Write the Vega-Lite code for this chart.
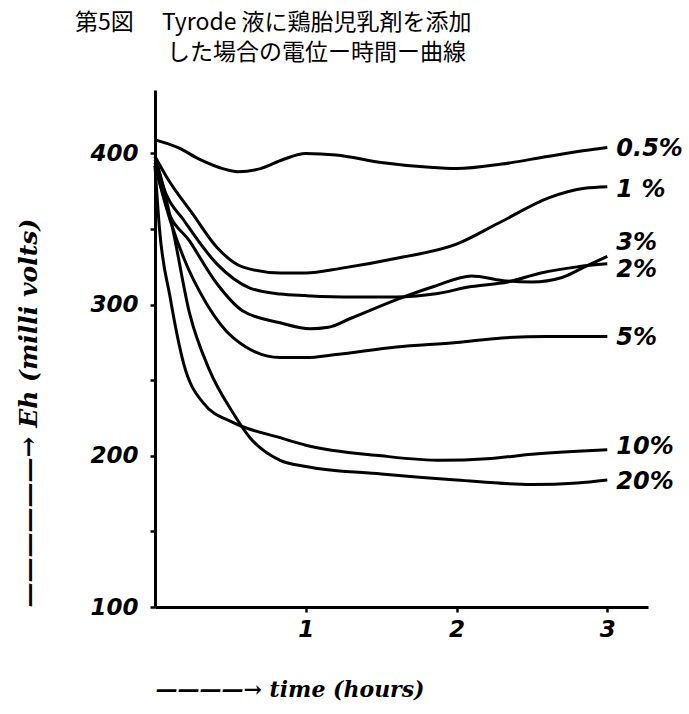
{
  "$schema": "https://vega.github.io/schema/vega-lite/v6.json",
  "autosize": {"type": "none"},
  "padding": {"left": 155, "top": 90, "right": 41, "bottom": 107},
  "width": 493,
  "height": 517,
  "background": "white",
  "config": {"view": {"stroke": null}},
  "title": {
    "text": ["第5図　 Tyrode 液に鶏胎児乳剤を添加", "\u200b　　　　した場合の電位ー時間ー曲線"],
    "font": "Noto Sans CJK JP",
    "fontSize": 23,
    "fontWeight": "normal",
    "color": "black",
    "frame": "group",
    "anchor": "start",
    "align": "left",
    "dx": -80,
    "lineHeight": 30,
    "offset": 25
  },
  "datasets": {
    "curves": [
      {"c": "0.5%", "t": 0, "v": 409}, {"c": "0.5%", "t": 0.15, "v": 404}, {"c": "0.5%", "t": 0.3, "v": 396}, {"c": "0.5%", "t": 0.45, "v": 390}, {"c": "0.5%", "t": 0.55, "v": 388}, {"c": "0.5%", "t": 0.7, "v": 390}, {"c": "0.5%", "t": 0.85, "v": 396}, {"c": "0.5%", "t": 1.0, "v": 400}, {"c": "0.5%", "t": 1.2, "v": 399}, {"c": "0.5%", "t": 1.5, "v": 394}, {"c": "0.5%", "t": 1.8, "v": 391}, {"c": "0.5%", "t": 2.0, "v": 390}, {"c": "0.5%", "t": 2.3, "v": 393}, {"c": "0.5%", "t": 2.6, "v": 398}, {"c": "0.5%", "t": 2.85, "v": 402}, {"c": "0.5%", "t": 3.0, "v": 404},
      {"c": "1%", "t": 0, "v": 398}, {"c": "1%", "t": 0.08, "v": 384}, {"c": "1%", "t": 0.25, "v": 360}, {"c": "1%", "t": 0.41, "v": 338}, {"c": "1%", "t": 0.58, "v": 325}, {"c": "1%", "t": 0.83, "v": 321}, {"c": "1%", "t": 1.0, "v": 321}, {"c": "1%", "t": 1.23, "v": 324}, {"c": "1%", "t": 1.62, "v": 331}, {"c": "1%", "t": 2.0, "v": 340}, {"c": "1%", "t": 2.28, "v": 354}, {"c": "1%", "t": 2.62, "v": 371}, {"c": "1%", "t": 2.85, "v": 377}, {"c": "1%", "t": 3.0, "v": 378},
      {"c": "2%", "t": 0, "v": 396}, {"c": "2%", "t": 0.07, "v": 374}, {"c": "2%", "t": 0.19, "v": 356}, {"c": "2%", "t": 0.41, "v": 327}, {"c": "2%", "t": 0.63, "v": 311}, {"c": "2%", "t": 0.83, "v": 307}, {"c": "2%", "t": 1.0, "v": 306}, {"c": "2%", "t": 1.3, "v": 305}, {"c": "2%", "t": 1.6, "v": 305}, {"c": "2%", "t": 1.85, "v": 307}, {"c": "2%", "t": 2.1, "v": 312}, {"c": "2%", "t": 2.34, "v": 315}, {"c": "2%", "t": 2.56, "v": 321}, {"c": "2%", "t": 2.8, "v": 325}, {"c": "2%", "t": 3.0, "v": 327},
      {"c": "3%", "t": 0, "v": 394}, {"c": "3%", "t": 0.08, "v": 364}, {"c": "3%", "t": 0.23, "v": 342}, {"c": "3%", "t": 0.41, "v": 314}, {"c": "3%", "t": 0.58, "v": 296}, {"c": "3%", "t": 0.83, "v": 288}, {"c": "3%", "t": 1.03, "v": 284}, {"c": "3%", "t": 1.15, "v": 285}, {"c": "3%", "t": 1.3, "v": 291}, {"c": "3%", "t": 1.62, "v": 304}, {"c": "3%", "t": 1.85, "v": 312}, {"c": "3%", "t": 2.1, "v": 319}, {"c": "3%", "t": 2.3, "v": 316}, {"c": "3%", "t": 2.5, "v": 315}, {"c": "3%", "t": 2.7, "v": 318}, {"c": "3%", "t": 2.85, "v": 325}, {"c": "3%", "t": 3.0, "v": 332},
      {"c": "5%", "t": 0, "v": 392}, {"c": "5%", "t": 0.1, "v": 356}, {"c": "5%", "t": 0.19, "v": 331}, {"c": "5%", "t": 0.34, "v": 301}, {"c": "5%", "t": 0.52, "v": 278}, {"c": "5%", "t": 0.83, "v": 265}, {"c": "5%", "t": 1.0, "v": 265}, {"c": "5%", "t": 1.2, "v": 267}, {"c": "5%", "t": 1.6, "v": 272}, {"c": "5%", "t": 2.0, "v": 275}, {"c": "5%", "t": 2.3, "v": 278}, {"c": "5%", "t": 2.6, "v": 279}, {"c": "5%", "t": 3.0, "v": 279},
      {"c": "10%", "t": 0, "v": 392}, {"c": "10%", "t": 0.03, "v": 350}, {"c": "10%", "t": 0.1, "v": 305}, {"c": "10%", "t": 0.19, "v": 261}, {"c": "10%", "t": 0.32, "v": 235}, {"c": "10%", "t": 0.52, "v": 222}, {"c": "10%", "t": 0.83, "v": 212}, {"c": "10%", "t": 1.0, "v": 207}, {"c": "10%", "t": 1.5, "v": 200}, {"c": "10%", "t": 1.9, "v": 197}, {"c": "10%", "t": 2.2, "v": 198}, {"c": "10%", "t": 2.5, "v": 201}, {"c": "10%", "t": 2.8, "v": 203}, {"c": "10%", "t": 3.0, "v": 204},
      {"c": "20%", "t": 0, "v": 398}, {"c": "20%", "t": 0.05, "v": 380}, {"c": "20%", "t": 0.12, "v": 349}, {"c": "20%", "t": 0.23, "v": 294}, {"c": "20%", "t": 0.36, "v": 257}, {"c": "20%", "t": 0.52, "v": 228}, {"c": "20%", "t": 0.63, "v": 212}, {"c": "20%", "t": 0.83, "v": 197}, {"c": "20%", "t": 1.0, "v": 193}, {"c": "20%", "t": 1.5, "v": 188}, {"c": "20%", "t": 2.0, "v": 184}, {"c": "20%", "t": 2.5, "v": 181}, {"c": "20%", "t": 2.8, "v": 182}, {"c": "20%", "t": 3.0, "v": 184}
    ],
    "labels": [
      {"label": "0.5%", "t": 3.06, "v": 403},
      {"label": "1 %", "t": 3.06, "v": 376},
      {"label": "3%", "t": 3.06, "v": 341},
      {"label": "2%", "t": 3.06, "v": 323},
      {"label": "5%", "t": 3.06, "v": 278},
      {"label": "10%", "t": 3.06, "v": 206},
      {"label": "20%", "t": 3.06, "v": 183}
    ]
  },
  "layer": [
    {
      "data": {"name": "curves"},
      "mark": {"type": "line", "interpolate": "monotone", "color": "black", "strokeWidth": 3, "clip": false},
      "encoding": {
        "x": {
          "field": "t", "type": "quantitative",
          "scale": {"domain": [0, 3.27], "nice": false},
          "axis": {
            "values": [1, 2, 3],
            "format": "d",
            "title": "————→ time (hours)",
            "titleAnchor": "start",
            "titleFont": "DejaVu Serif",
            "titleFontStyle": "italic",
            "titleFontWeight": "bold",
            "titleFontSize": 22,
            "titleColor": "black",
            "titlePadding": 38,
            "labelFont": "DejaVu Sans",
            "labelFontStyle": "italic",
            "labelFontWeight": "bold",
            "labelFontSize": 23,
            "labelColor": "black",
            "labelPadding": 6,
            "domainColor": "black",
            "domainWidth": 3,
            "tickColor": "black",
            "tickWidth": 2.5,
            "tickSize": 5,
            "grid": false
          }
        },
        "y": {
          "field": "v", "type": "quantitative",
          "scale": {"domain": [100, 442], "nice": false, "zero": false},
          "axis": {
            "values": [100, 150, 200, 250, 300, 350, 400],
            "labelExpr": "datum.value % 100 == 0 ? datum.label : ''",
            "title": "——————→ Eh (milli volts)",
            "titleAnchor": "start",
            "titleFont": "DejaVu Serif",
            "titleFontStyle": "italic",
            "titleFontWeight": "bold",
            "titleFontSize": 25,
            "titleColor": "black",
            "titlePadding": 48,
            "labelFont": "DejaVu Sans",
            "labelFontStyle": "italic",
            "labelFontWeight": "bold",
            "labelFontSize": 23,
            "labelColor": "black",
            "labelPadding": 12,
            "domainColor": "black",
            "domainWidth": 3,
            "tickColor": "black",
            "tickWidth": 2.5,
            "tickSize": 5,
            "grid": false
          }
        },
        "detail": {"field": "c", "type": "nominal"}
      }
    },
    {
      "data": {"name": "labels"},
      "mark": {"type": "text", "align": "left", "baseline": "middle", "font": "DejaVu Sans", "fontStyle": "italic", "fontWeight": "bold", "fontSize": 24, "color": "black", "clip": false},
      "encoding": {
        "x": {"field": "t", "type": "quantitative"},
        "y": {"field": "v", "type": "quantitative"},
        "text": {"field": "label"}
      }
    }
  ]
}
